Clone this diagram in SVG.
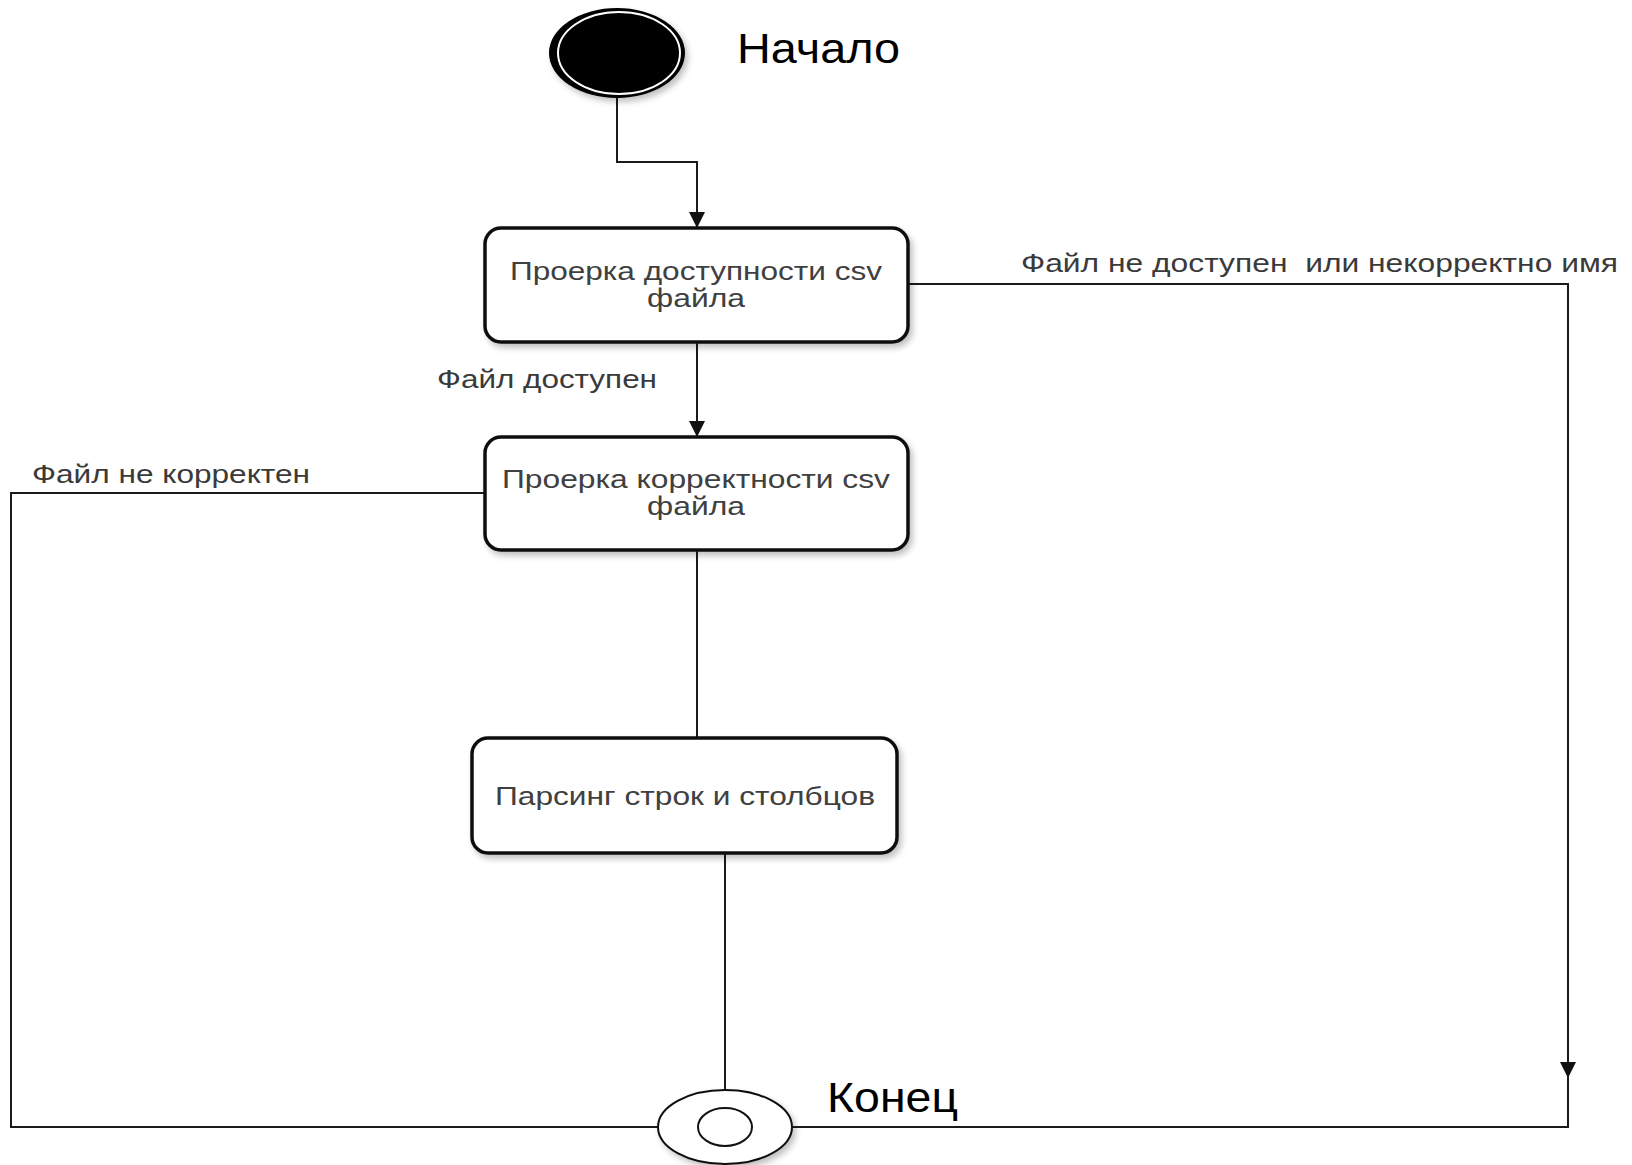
<svg xmlns="http://www.w3.org/2000/svg" width="1632" height="1165" viewBox="0 0 1632 1165">
<style>
.box{fill:#fff;stroke:#111;stroke-width:3.5;filter:url(#sh)}
.btxt{font-family:"Liberation Sans",Arial,sans-serif;font-size:26px;fill:#404040;text-anchor:middle}
.lbl{font-family:"Liberation Sans",Arial,sans-serif;font-size:25px;fill:#3a3a3a}
.big{font-family:"Liberation Sans",Arial,sans-serif;font-size:43px;fill:#000}
.con{fill:none;stroke:#1a1a1a;stroke-width:2}
</style>
<defs>
<filter id="sh" x="-10%" y="-10%" width="130%" height="140%">
<feGaussianBlur in="SourceAlpha" stdDeviation="3"/>
<feOffset dx="3" dy="4" result="b"/>
<feComponentTransfer><feFuncA type="linear" slope="0.25"/></feComponentTransfer>
<feMerge><feMergeNode/><feMergeNode in="SourceGraphic"/></feMerge>
</filter>
<marker id="arr" markerUnits="userSpaceOnUse" markerWidth="20" markerHeight="16" refX="20" refY="10" orient="auto" viewBox="0 0 20 20">
<path d="M0,0 L20,10 L0,20 Z" fill="#111"/>
</marker>
</defs>
<rect width="1632" height="1165" fill="#fff"/>
<g id="connectors">
<path class="con" d="M617,98 V162 H697 V228" marker-end="url(#arr)"/>
<path class="con" d="M697,342 V437" marker-end="url(#arr)"/>
<path class="con" d="M908,284 H1568 V1078" marker-end="url(#arr)"/>
<path class="con" d="M1568,1076 V1127 H792"/>
<path class="con" d="M485,493 H11 V1127 H658"/>
<path class="con" d="M697,550 V738"/>
<path class="con" d="M725,853 V1090"/>
<text class="lbl" x="437" y="388" textLength="220" lengthAdjust="spacingAndGlyphs">Файл доступен</text>
<text class="lbl" x="1021" y="272" textLength="597" lengthAdjust="spacingAndGlyphs">Файл не доступен&#160; или некорректно имя</text>
<text class="lbl" x="32" y="483" textLength="278" lengthAdjust="spacingAndGlyphs">Файл не корректен</text>
</g>
<g id="start">
<ellipse cx="617" cy="53" rx="68" ry="45" fill="#000" filter="url(#sh)"/>
<ellipse cx="619" cy="53" rx="61" ry="41" fill="none" stroke="#fff" stroke-width="2"/>
<text class="big" x="737" y="63" textLength="163" lengthAdjust="spacingAndGlyphs">Начало</text>
</g>
<g id="check-availability">
<rect class="box" x="485" y="228" width="423" height="114" rx="16"/>
<text class="btxt" x="696" y="280" textLength="372" lengthAdjust="spacingAndGlyphs">Проерка доступности csv</text>
<text class="btxt" x="696" y="307" textLength="98" lengthAdjust="spacingAndGlyphs">файла</text>
</g>
<g id="check-correctness">
<rect class="box" x="485" y="437" width="423" height="113" rx="16"/>
<text class="btxt" x="696" y="488" textLength="388" lengthAdjust="spacingAndGlyphs">Проерка корректности csv</text>
<text class="btxt" x="696" y="515" textLength="98" lengthAdjust="spacingAndGlyphs">файла</text>
</g>
<g id="parsing">
<rect class="box" x="472" y="738" width="425" height="115" rx="16"/>
<text class="btxt" x="685" y="805" textLength="380" lengthAdjust="spacingAndGlyphs">Парсинг строк и столбцов</text>
</g>
<g id="end">
<ellipse cx="725" cy="1127" rx="67" ry="37" fill="#fff" stroke="#111" stroke-width="2" filter="url(#sh)"/>
<ellipse cx="725" cy="1127" rx="27" ry="19" fill="#fff" stroke="#111" stroke-width="2"/>
<text class="big" x="827" y="1112" textLength="131" lengthAdjust="spacingAndGlyphs">Конец</text>
</g>
</svg>
